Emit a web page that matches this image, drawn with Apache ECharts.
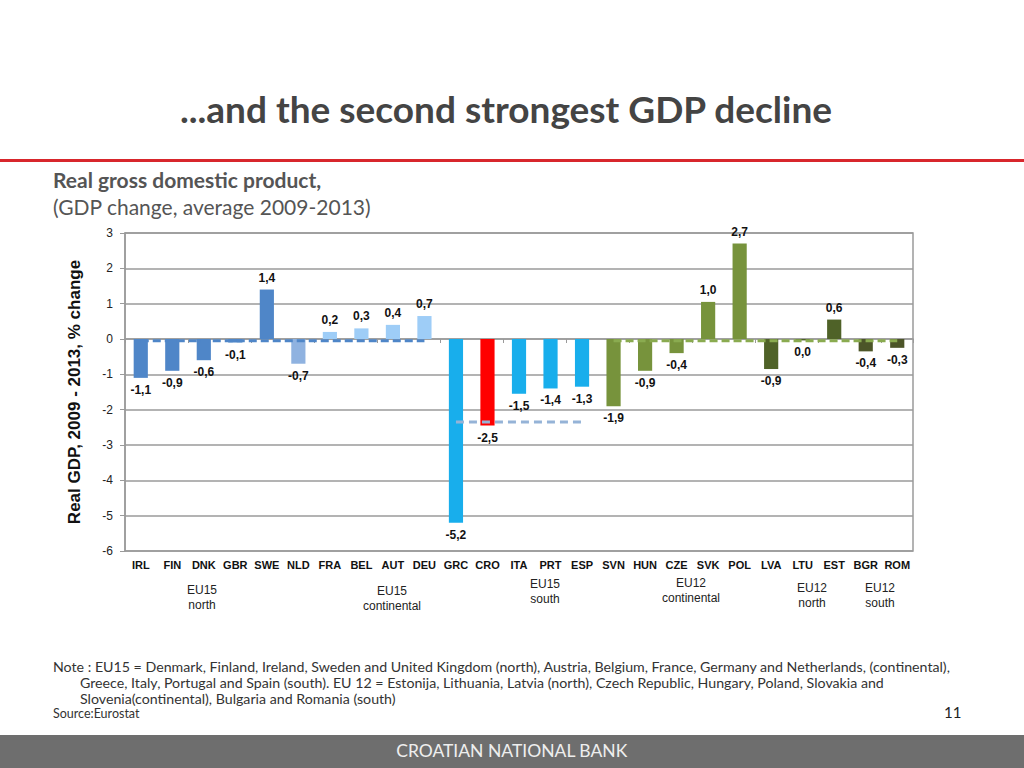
<!DOCTYPE html>
<html>
<head>
<meta charset="utf-8">
<script src="https://cdn.jsdelivr.net/npm/echarts@6/dist/echarts.min.js"></script>
<style>
html,body{margin:0;padding:0;background:#fff;}
#c{width:1024px;height:768px;}
</style>
</head>
<body>
<div id="c"></div>
<script>
// ---- data ----
const categories = ['IRL','FIN','DNK','GBR','SWE','NLD','FRA','BEL','AUT','DEU','GRC','CRO','ITA','PRT','ESP','SVN','HUN','CZE','SVK','POL','LVA','LTU','EST','BGR','ROM'];
const gdpChange = [-1.1,-0.9,-0.6,-0.1,1.4,-0.7,0.2,0.3,0.4,0.65,-5.2,-2.45,-1.55,-1.4,-1.35,-1.9,-0.9,-0.4,1.05,2.7,-0.85,-0.04,0.55,-0.35,-0.25];
const gdpLabels = ['-1,1','-0,9','-0,6','-0,1','1,4','-0,7','0,2','0,3','0,4','0,7','-5,2','-2,5','-1,5','-1,4','-1,3','-1,9','-0,9','-0,4','1,0','2,7','-0,9','0,0','0,6','-0,4','-0,3'];
const groupOfCountry = ['n','n','n','n','n','nl','c','c','c','c','s','cro','s','s','s','e12c','e12c','e12c','e12c','e12c','e12n','e12n','e12n','e12s','e12s'];
const avgEU15NorthCont = [-0.05,-0.05,-0.05,-0.05,-0.05,-0.05,-0.05,-0.05,-0.05,-0.05,null,null,null,null,null,null,null,null,null,null,null,null,null,null,null];
const avgEU15South = [null,null,null,null,null,null,null,null,null,null,-2.35,-2.35,-2.35,-2.35,-2.35,null,null,null,null,null,null,null,null,null,null];
const avgEU12 = [null,null,null,null,null,null,null,null,null,null,null,null,null,null,null,-0.05,-0.05,-0.05,-0.05,-0.05,-0.05,-0.05,-0.05,-0.05,-0.05];
const yTicks = {min:-6, max:3, interval:1};
const groupTexts = [
  {text:'EU15\nnorth', x:202, y:597},
  {text:'EU15\ncontinental', x:392, y:598},
  {text:'EU15\nsouth', x:545, y:591},
  {text:'EU12\ncontinental', x:691, y:590},
  {text:'EU12\nnorth', x:812, y:595},
  {text:'EU12\nsouth', x:880, y:595}
];
const noteLines = [
  'Note : EU15 = Denmark, Finland, Ireland, Sweden and United Kingdom (north), Austria, Belgium, France, Germany and Netherlands, (continental),',
  'Greece, Italy, Portugal and Spain (south). EU 12 = Estonija, Lithuania, Latvia (north), Czech Republic, Hungary, Poland, Slovakia and',
  'Slovenia(continental), Bulgaria and Romania (south)'
];

// ---- styles ----
const colorMap = {n:'#4f86c8', nl:'#8fb2e0', c:'#9ecdf7', s:'#18aeec', cro:'#ff0000', e12c:'#77933c', e12n:'#4f6228', e12s:'#4c5528'};

const chart = echarts.init(document.getElementById('c'), null, {renderer:'svg'});
const barData = gdpChange.map((v,i)=>({
  value:v,
  itemStyle:{color:colorMap[groupOfCountry[i]]},
  label:{position: v>0 ? 'top':'bottom', formatter: gdpLabels[i]}
}));
const axisFont = 'Liberation Sans, Arial, sans-serif';
const calFont = 'Lato, "Open Sans", sans-serif';

chart.setOption({
  animation:false,
  grid:{left:125, right:111, top:233, bottom:217, show:true, borderColor:'#9a9a9a', borderWidth:1.5},
  xAxis:[
    {type:'category', data:categories, axisLine:{onZero:true, lineStyle:{color:'#9a9a9a', width:1.5}},
     axisTick:{show:true, length:4, inside:false, lineStyle:{color:'#9a9a9a'}}, axisLabel:{show:false}},
    {type:'category', data:categories, position:'bottom', axisLine:{show:false}, axisTick:{show:false},
     axisLabel:{show:true, interval:0, margin:8, fontFamily:axisFont, fontWeight:'bold', fontSize:11, color:'#111'}}
  ],
  yAxis:{type:'value', min:yTicks.min, max:yTicks.max, interval:yTicks.interval,
    axisLine:{show:true, lineStyle:{color:'#9a9a9a', width:1.5}},
    axisTick:{show:true, length:5, lineStyle:{color:'#9a9a9a'}},
    splitLine:{lineStyle:{color:'#9a9a9a', width:1.5}},
    axisLabel:{fontFamily:axisFont, fontSize:12, color:'#222', margin:12},
    name:'Real GDP, 2009 - 2013, % change', nameLocation:'middle', nameRotate:90, nameGap:42,
    nameTextStyle:{fontFamily:axisFont, fontWeight:'bold', fontSize:17, color:'#111'}
  },
  series:[
    {type:'bar', data:barData, barWidth:'45%', xAxisIndex:0,
     label:{show:true, fontFamily:axisFont, fontWeight:'bold', fontSize:12, color:'#111', distance:6}},
    {type:'line', data:avgEU15NorthCont, xAxisIndex:0, symbol:'none', z:3,
     lineStyle:{color:'#4f86c8', width:3, type:[8,4]}},
    {type:'line', data:avgEU15South, xAxisIndex:0, symbol:'none', z:3,
     lineStyle:{color:'#95b3d7', width:3, type:[8,5]}},
    {type:'line', data:avgEU12, xAxisIndex:0, symbol:'none', z:3,
     lineStyle:{color:'#8aab50', width:3, type:[8,4]}}
  ],
  graphic:[
    {type:'text', x:506, y:108, style:{text:'...and the second strongest GDP decline', align:'center', verticalAlign:'middle', fontFamily:calFont, fontWeight:'bold', fontSize:37, fill:'#444'}},
    {type:'rect', shape:{x:0, y:159, width:1024, height:3}, style:{fill:'#d8262c'}},
    {type:'text', x:53, y:169, style:{text:'Real gross domestic product,', fontFamily:calFont, fontWeight:'bold', fontSize:21, fill:'#555'}},
    {type:'text', x:53, y:196, style:{text:'(GDP change, average 2009-2013)', fontFamily:calFont, fontSize:21, fill:'#555'}},
    ...groupTexts.map(g=>({type:'text', x:g.x, y:g.y, style:{text:g.text, align:'center', verticalAlign:'middle', lineHeight:15, fontFamily:axisFont, fontSize:12, fill:'#222'}})),
    {type:'text', x:53, y:659, style:{text:noteLines[0], fontFamily:calFont, fontSize:14.2, fill:'#333'}},
    {type:'text', x:80, y:675, style:{text:noteLines[1], fontFamily:calFont, fontSize:14.2, fill:'#333'}},
    {type:'text', x:80, y:691, style:{text:noteLines[2], fontFamily:calFont, fontSize:14.2, fill:'#333'}},
    {type:'text', x:53, y:707, style:{text:'Source:Eurostat', fontFamily:calFont, fontSize:12.5, fill:'#333'}},
    {type:'text', x:944, y:704, style:{text:'11', fontFamily:calFont, fontSize:15, fill:'#222'}},
    {type:'rect', shape:{x:0, y:735, width:1024, height:33}, style:{fill:'#6e6e6e'}},
    {type:'text', left:'center', top:741, style:{text:'CROATIAN NATIONAL BANK', fontFamily:calFont, fontSize:17.5, fill:'#eeeeee'}}
  ]
});
</script>
</body>
</html>
